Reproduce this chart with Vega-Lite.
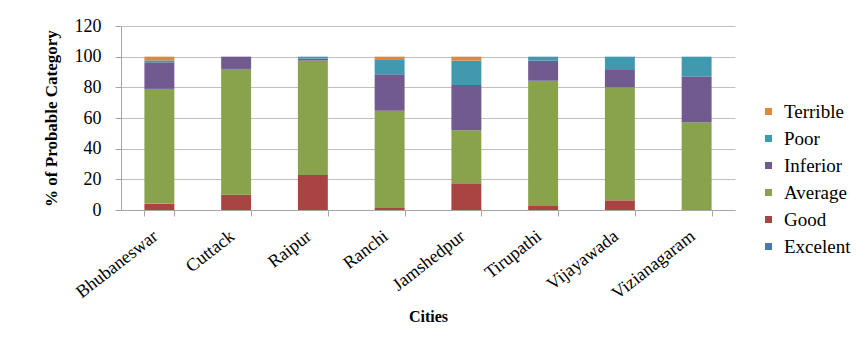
{
  "$schema": "https://vega.github.io/schema/vega-lite/v6.json",
  "autosize": "none",
  "width": 614,
  "height": 184,
  "padding": {"left": 121, "top": 26, "right": 130, "bottom": 133},
  "background": "white",
  "data": {
    "values": [
      {"city": "Bhubaneswar", "category": "Good", "level": 2, "percent": 4},
      {"city": "Bhubaneswar", "category": "Average", "level": 3, "percent": 75},
      {"city": "Bhubaneswar", "category": "Inferior", "level": 4, "percent": 17.3},
      {"city": "Bhubaneswar", "category": "Poor", "level": 5, "percent": 1.3},
      {"city": "Bhubaneswar", "category": "Terrible", "level": 6, "percent": 2.4},
      {"city": "Cuttack", "category": "Good", "level": 2, "percent": 10},
      {"city": "Cuttack", "category": "Average", "level": 3, "percent": 82},
      {"city": "Cuttack", "category": "Inferior", "level": 4, "percent": 8},
      {"city": "Raipur", "category": "Good", "level": 2, "percent": 22.8},
      {"city": "Raipur", "category": "Average", "level": 3, "percent": 74.6},
      {"city": "Raipur", "category": "Inferior", "level": 4, "percent": 1.3},
      {"city": "Raipur", "category": "Poor", "level": 5, "percent": 1.3},
      {"city": "Ranchi", "category": "Good", "level": 2, "percent": 1.3},
      {"city": "Ranchi", "category": "Average", "level": 3, "percent": 63.5},
      {"city": "Ranchi", "category": "Inferior", "level": 4, "percent": 23.7},
      {"city": "Ranchi", "category": "Poor", "level": 5, "percent": 9.3},
      {"city": "Ranchi", "category": "Terrible", "level": 6, "percent": 2.2},
      {"city": "Jamshedpur", "category": "Good", "level": 2, "percent": 17.4},
      {"city": "Jamshedpur", "category": "Average", "level": 3, "percent": 34.6},
      {"city": "Jamshedpur", "category": "Inferior", "level": 4, "percent": 29.5},
      {"city": "Jamshedpur", "category": "Poor", "level": 5, "percent": 15.9},
      {"city": "Jamshedpur", "category": "Terrible", "level": 6, "percent": 2.6},
      {"city": "Tirupathi", "category": "Good", "level": 2, "percent": 2.6},
      {"city": "Tirupathi", "category": "Average", "level": 3, "percent": 81.7},
      {"city": "Tirupathi", "category": "Inferior", "level": 4, "percent": 13.1},
      {"city": "Tirupathi", "category": "Poor", "level": 5, "percent": 2.6},
      {"city": "Vijayawada", "category": "Good", "level": 2, "percent": 6.3},
      {"city": "Vijayawada", "category": "Average", "level": 3, "percent": 73.7},
      {"city": "Vijayawada", "category": "Inferior", "level": 4, "percent": 11.3},
      {"city": "Vijayawada", "category": "Poor", "level": 5, "percent": 8.7},
      {"city": "Vizianagaram", "category": "Average", "level": 3, "percent": 57},
      {"city": "Vizianagaram", "category": "Inferior", "level": 4, "percent": 30},
      {"city": "Vizianagaram", "category": "Poor", "level": 5, "percent": 13}
    ]
  },
  "mark": {"type": "bar"},
  "encoding": {
    "x": {
      "field": "city",
      "type": "nominal",
      "sort": null,
      "title": "Cities",
      "scale": {"paddingInner": 0.61, "paddingOuter": 0.305},
      "axis": {
        "labelAngle": -38,
        "labelAlign": "right",
        "labelBaseline": "middle",
        "labelFontSize": 18,
        "labelOffset": -4,
        "tickBand": "extent",
        "tickSize": 6,
        "labelPadding": 18,
        "titlePadding": 6
      }
    },
    "y": {
      "field": "percent",
      "type": "quantitative",
      "stack": "zero",
      "title": "% of Probable Category",
      "scale": {"domain": [0, 120]},
      "axis": {
        "values": [0, 20, 40, 60, 80, 100, 120],
        "labelFontSize": 18,
        "tickSize": 6,
        "labelPadding": 14,
        "titleFontSize": 17,
        "titlePadding": 14
      }
    },
    "color": {
      "field": "category",
      "type": "nominal",
      "title": null,
      "scale": {
        "domain": ["Terrible", "Poor", "Inferior", "Average", "Good", "Excelent"],
        "range": ["#E0873E", "#4199B0", "#705A8E", "#88A34C", "#A94442", "#4A78AE"]
      },
      "legend": {
        "orient": "none",
        "legendX": 638,
        "legendY": 76,
        "symbolType": "square",
        "symbolSize": 49,
        "labelFontSize": 19,
        "labelOffset": 6,
        "rowPadding": 7
      }
    },
    "order": {"field": "level", "type": "quantitative"}
  },
  "config": {
    "font": "Liberation Serif",
    "view": {"stroke": null},
    "axis": {
      "labelFont": "Liberation Serif",
      "labelColor": "#000000",
      "titleFont": "Liberation Serif",
      "titleFontSize": 16,
      "titleFontWeight": "bold",
      "titleColor": "#000000",
      "domainColor": "#a6a6a6",
      "tickColor": "#a6a6a6",
      "gridColor": "#bfbfbf"
    },
    "axisX": {"grid": false},
    "axisY": {"grid": true},
    "legend": {
      "labelFont": "Liberation Serif",
      "labelColor": "#000000"
    }
  }
}
